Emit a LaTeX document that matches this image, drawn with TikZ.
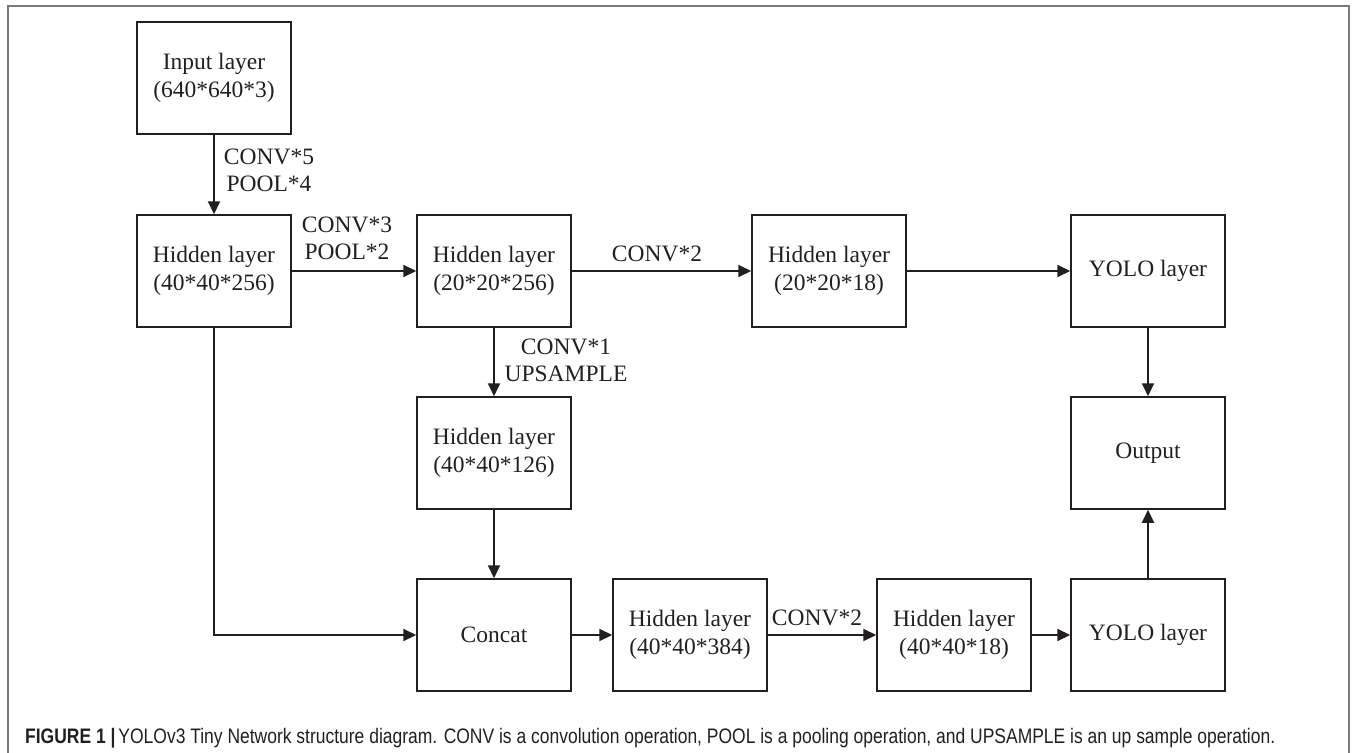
\documentclass[tikz,border=0pt]{standalone}
\usepackage{fontspec}
\setmainfont{Liberation Serif}
\newfontfamily\capfont{Liberation Sans}
\usetikzlibrary{arrows.meta}
\definecolor{ink}{HTML}{231F20}
\definecolor{framegray}{HTML}{7A7A7A}
\tikzset{
  layerbox/.style={draw=ink, line width=1.5pt, minimum width=154pt, minimum height=112pt,
    inner sep=0pt, align=center, text=ink, font=\fontsize{23.5}{28}\selectfont},
  flow/.style={draw=ink, line width=2pt, -{Triangle[length=13pt,width=12pt]}},
  oplabel/.style={text=ink, align=center, inner sep=0pt, font=\fontsize{23.5}{27}\selectfont}
}
\begin{document}
\begin{tikzpicture}[x=1pt,y=-1pt]
\useasboundingbox (0,0) rectangle (1356,752);
\draw[framegray, line width=1.5pt] (8,760) -- (8,6) -- (1349,6) -- (1349,760);

\node[layerbox] (inp) at (214,78) {Input layer\\(640*640*3)};
\node[layerbox] (h1) at (214,271) {Hidden layer\\(40*40*256)};
\node[layerbox] (h2) at (494,271) {Hidden layer\\(20*20*256)};
\node[layerbox] (h3) at (829,271) {Hidden layer\\(20*20*18)};
\node[layerbox] (yolo1) at (1148,271) {YOLO layer};
\node[layerbox] (h4) at (494,453) {Hidden layer\\(40*40*126)};
\node[layerbox] (out) at (1148,453) {Output};
\node[layerbox] (concat) at (494,635) {Concat};
\node[layerbox] (h5) at (690,635) {Hidden layer\\(40*40*384)};
\node[layerbox] (h6) at (954,635) {Hidden layer\\(40*40*18)};
\node[layerbox] (yolo2) at (1148,635) {YOLO layer};

\node[oplabel] (l1) at (269,170) {CONV*5\\POOL*4};
\node[oplabel] (l2) at (347,238) {CONV*3\\POOL*2};
\node[oplabel] (l3) at (657,254) {CONV*2};
\node[oplabel] (l4) at (566,360) {CONV*1\\UPSAMPLE};
\node[oplabel] (l5) at (817,618) {CONV*2};

\draw[flow] (inp) -- (h1);
\draw[flow] (h1) -- (h2);
\draw[flow] (h2) -- (h3);
\draw[flow] (h3) -- (yolo1);
\draw[flow] (yolo1) -- (out);
\draw[flow] (h2) -- (h4);
\draw[flow] (h4) -- (concat);
\draw[flow] (h1.south) |- (concat.west);
\draw[flow] (concat) -- (h5);
\draw[flow] (h5) -- (h6);
\draw[flow] (h6) -- (yolo2);
\draw[flow] (yolo2) -- (out);

\node[anchor=base west, inner sep=0pt, text=ink] (cap) at (25,743)
  {\resizebox{1250pt}{\height}{\capfont\fontsize{21}{21}\selectfont\textbf{FIGURE 1 |}\,YOLOv3 Tiny Network structure diagram. CONV is a convolution operation, POOL is a pooling operation, and UPSAMPLE is an up sample operation.}};
\end{tikzpicture}
\end{document}
